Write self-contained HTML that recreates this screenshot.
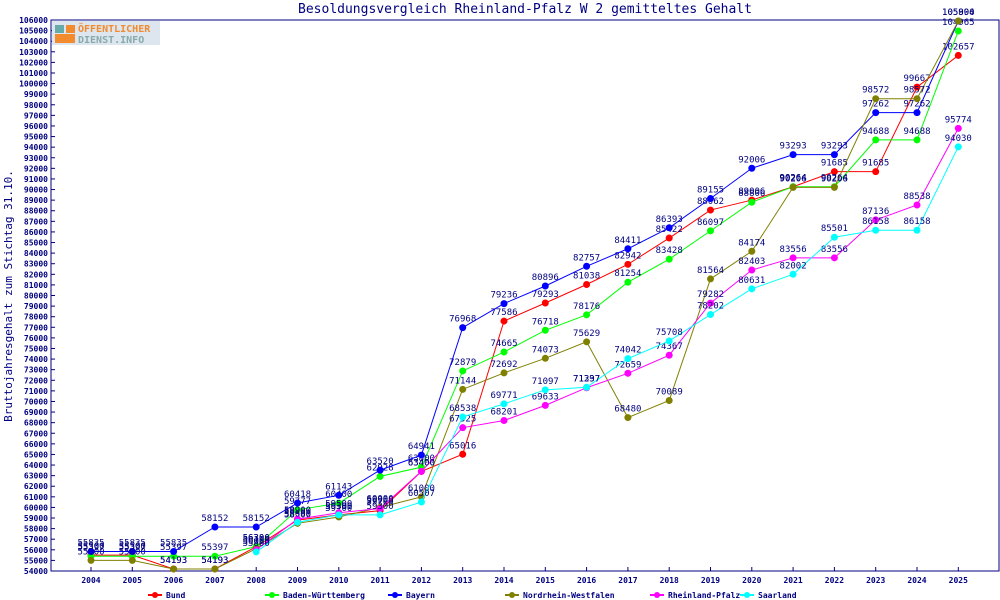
<!DOCTYPE html><html><head><meta charset="utf-8"><style>body{margin:0;background:#fff}svg{display:block}text{font-family:"DejaVu Sans Mono","Liberation Mono",monospace;fill:#000080}</style></head><body>
<svg id="s" width="1000" height="600" xmlns="http://www.w3.org/2000/svg"></svg>
<script>
const s=document.getElementById('s');let h='';
const X0=51,X1=999,Y0=20,Y1=571;
const xp=i=>91+i*41.3, yp=v=>Y1-(v-54000)*(Y1-Y0)/52000;
h+=`<text x="525" y="13" font-size="13" text-anchor="middle">Besoldungsvergleich Rheinland-Pfalz W 2 gemitteltes Gehalt</text>`;
h+=`<text transform="translate(12,296) rotate(-90)" font-size="11" text-anchor="middle">Bruttojahresgehalt zum Stichtag 31.10.</text>`;
h+=`<rect x="${X0}" y="${Y0}" width="${X1-X0}" height="${Y1-Y0}" fill="none" stroke="#000080"/>`;
for(let v=54000;v<=106000;v+=1000){let y=yp(v);h+=`<line x1="${X0}" x2="${X0+4}" y1="${y}" y2="${y}" stroke="#000080"/><text x="${X0-3}" y="${y+3}" font-size="8" font-weight="bold" text-anchor="end">${v}</text>`;}
for(let i=0;i<22;i++){let x=xp(i);h+=`<line x1="${x}" x2="${x}" y1="${Y1}" y2="${Y1-4}" stroke="#000080"/><text x="${x}" y="${Y1+12}" font-size="8" font-weight="bold" text-anchor="middle">${2004+i}</text>`;}
h+=`<rect x="52" y="21" width="108" height="24" fill="#dde6ee"/><rect x="55" y="25" width="9" height="8" fill="#6aa"/><rect x="66" y="25" width="9" height="8" fill="#f28a2e"/><rect x="55" y="34" width="20" height="9" fill="#f28a2e"/><text x="78" y="32" font-size="10" font-weight="bold" style="fill:#f28a2e">ÖFFENTLICHER</text><text x="78" y="43" font-size="10" font-weight="bold" style="fill:#8aa">DIENST.INFO</text>`;
const S=[
['Bund','#ff0000',[55500,55500,54193,54193,56300,58800,59300,59700,63400,65016,77586,79293,81038,82942,85422,88062,89006,90264,91685,91685,99667,102657]],
['Baden-Württemberg','#00ff00',[55397,55397,55397,55397,56300,59777,60400,62928,63800,72879,74665,76718,78176,81254,83428,86097,88806,90264,90264,94688,94688,104965]],
['Bayern','#0000ff',[55835,55835,55835,58152,58152,60418,61143,63520,64941,76968,79236,80896,82757,84411,86393,89155,92006,93293,93293,97262,97262,105894]],
['Nordrhein-Westfalen','#808000',[55000,55000,54193,54193,56100,58500,59100,60000,61000,71144,72692,74073,75629,68480,70089,81564,84174,90206,90206,98572,98572,105900]],
['Rheinland-Pfalz','#ff00ff',[null,null,null,null,56000,58900,59500,59900,63400,67525,68201,69633,71297,72659,74367,79282,82403,83556,83556,87136,88538,95774]],
['Saarland','#00ffff',[null,null,null,null,55800,58600,59300,59300,60507,68538,69771,71097,71337,74042,75708,78202,80631,82002,85501,86158,86158,94030]]];
S.forEach((sr,k)=>{let pts=[];sr[2].forEach((v,i)=>{if(v!=null)pts.push([xp(i),yp(v),v]);});
h+=`<polyline fill="none" stroke="${sr[1]}" points="${pts.map(p=>p[0]+','+p[1]).join(' ')}"/>`;
pts.forEach(p=>{h+=`<circle cx="${p[0]}" cy="${p[1]}" r="3.5" fill="${sr[1]}"/><text x="${p[0]}" y="${p[1]-6}" font-size="9" text-anchor="middle">${p[2]}</text>`;});
let lx=[148,265,388,505,650,740][k];h+=`<line x1="${lx}" x2="${lx+14}" y1="595" y2="595" stroke="${sr[1]}" stroke-width="2"/><circle cx="${lx+7}" cy="595" r="3" fill="${sr[1]}"/><text x="${lx+18}" y="598" font-size="8" font-weight="bold">${sr[0]}</text>`;});
s.innerHTML=h;
</script></body></html>
